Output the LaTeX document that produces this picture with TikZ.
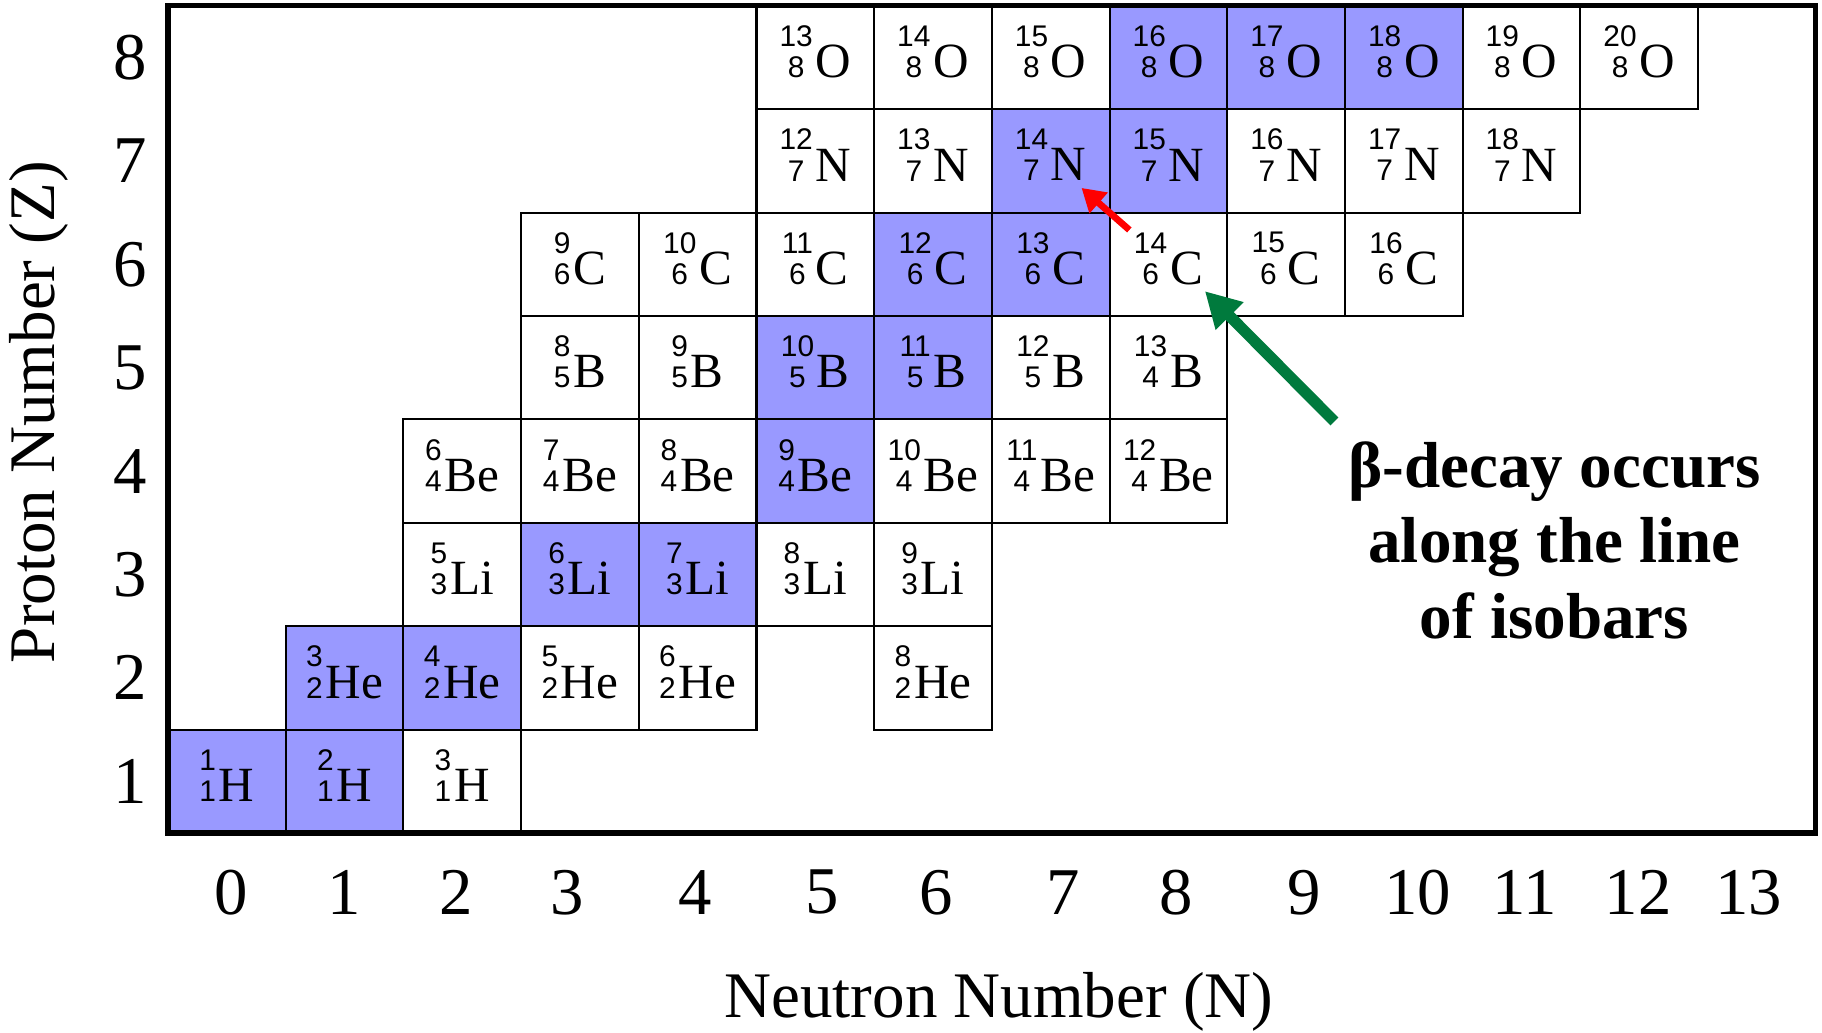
\documentclass[tikz,border=0pt]{standalone}
\usepackage{fontspec}
\setmainfont{Liberation Serif}
\newfontfamily\numfont{Liberation Sans}
\usepackage{xcolor}
\usepackage{tikz}
\usetikzlibrary{arrows.meta,positioning}

\definecolor{stablefill}{RGB}{153,153,255}
\definecolor{arrowgreen}{RGB}{0,122,61}

% mass number over proton number, then the symbol
\newcommand{\iso}[3]{{\numfont\fontsize{8.5}{8.5}\selectfont\shortstack{#1\\#2}}\hspace{0.8pt}#3}

\begin{document}
\begin{tikzpicture}[
    x=1.177cm, y=1.034cm,
    cell/.style={
        rectangle,
        draw=black,
        line width=0.6pt,
        fill=white,
        minimum width=1.177cm,
        minimum height=1.034cm,
        inner sep=0pt,
        text depth=3.3pt,
        font=\fontsize{14}{14}\selectfont
    },
    stable/.style={cell, fill=stablefill},
    axisnum/.style={font=\fontsize{19}{19}\selectfont},
    axislabel/.style={font=\fontsize{18.5}{18.5}\selectfont},
    frame/.style={draw=black, line width=1.5pt},
    decay/.style={-{Triangle[length=6.5pt,width=7.5pt]}, red, line width=1.9pt},
    pointer/.style={-{Triangle[length=10pt,width=10.5pt]}, arrowgreen, line width=3.2pt}
]
\useasboundingbox (-1.427,-1.925) rectangle (14.053,8.056);

% stable isotopes
\foreach \n/\z/\el in {0/1/H, 1/1/H, 1/2/He, 2/2/He, 3/3/Li, 4/3/Li, 5/4/Be,
    5/5/B, 6/5/B, 6/6/C, 7/6/C, 7/7/N, 8/7/N, 8/8/O, 9/8/O, 10/8/O} {
    \pgfmathtruncatemacro{\a}{\n+\z}
    \node[stable] (c\n-\z) at (\n+0.5,\z-0.5) {\iso{\a}{\z}{\el}};
}

% unstable isotopes
\foreach \n/\z/\el in {2/1/H, 3/2/He, 4/2/He, 6/2/He, 2/3/Li, 5/3/Li, 6/3/Li,
    2/4/Be, 3/4/Be, 4/4/Be, 6/4/Be, 7/4/Be, 8/4/Be, 3/5/B, 4/5/B, 7/5/B,
    3/6/C, 4/6/C, 5/6/C, 8/6/C, 9/6/C, 10/6/C, 5/7/N, 6/7/N, 9/7/N, 10/7/N, 11/7/N,
    5/8/O, 6/8/O, 7/8/O, 11/8/O, 12/8/O} {
    \pgfmathtruncatemacro{\a}{\n+\z}
    \node[cell] (c\n-\z) at (\n+0.5,\z-0.5) {\iso{\a}{\z}{\el}};
}
\node[cell] (c8-5) at (8.5,4.5) {\iso{13}{4}{B}};

% outer frame
\draw[frame] (0,0) rectangle (14,8);

% axes
\foreach \z in {1,...,8}
    \node[axisnum] (z\z) at (-0.32,\z-0.5) {\z};
\foreach \n/\x in {0/0.54, 1/1.50, 2/2.45, 3/3.39, 4/4.48, 5/5.56, 6/6.53,
    7/7.61, 8/8.57, 9/9.65, 10/10.62, 11/11.53, 12/12.49, 13/13.43}
    \node[axisnum] (n\n) at (\x,-0.575) {\n};
\node[axislabel] (xlabel) at (7.06,-1.63) {Neutron Number (N)};
\node[axislabel, rotate=90] (ylabel) at (-1.10,4.07) {Proton Number (Z)};

% note
\node[align=center, font=\bfseries\fontsize{18.5}{21.5}\selectfont] (note)
    at (11.78,2.83) {β-decay occurs\\along the line\\of isobars};
\coordinate (gtail) at (9.91,3.98);
\coordinate (ghead) at (8.81,5.24);

% arrows
\draw[decay, shorten <=0.52cm, shorten >=0.41cm] (c8-6.center) -- (c7-7.center);
\draw[pointer] (gtail) -- (ghead);

\end{tikzpicture}
\end{document}
